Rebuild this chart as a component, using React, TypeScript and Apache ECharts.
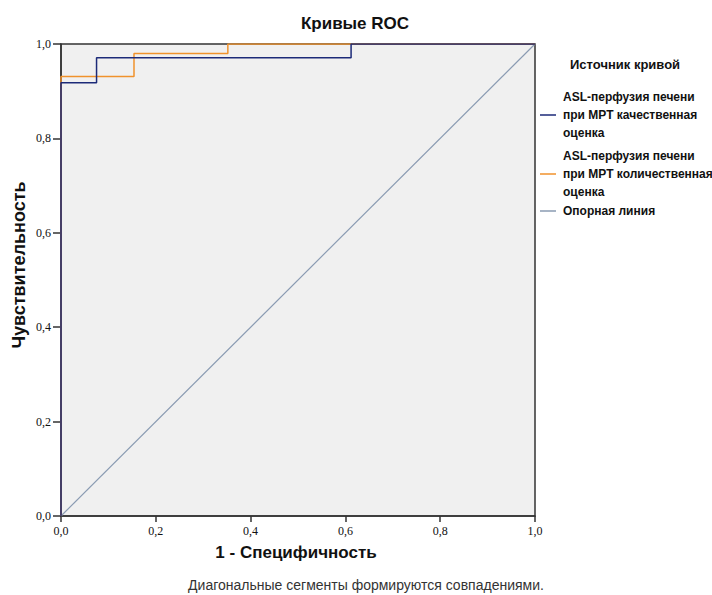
import React, { useEffect, useRef } from "react";
import * as echarts from "echarts";

const title = "Кривые ROC";
const xAxisName = "1 - Специфичность";
const yAxisName = "Чувствительность";
const footnote = "Диагональные сегменты формируются совпадениями.";
const legendTitle = "Источник кривой";

const seriesNames = [
  "ASL-перфузия печени\nпри МРТ качественная\nоценка",
  "ASL-перфузия печени\nпри МРТ количественная\nоценка",
  "Опорная линия",
];

const qualitativeCurve: [number, number][] = [
  [0, 0], [0, 0.918], [0.075, 0.918], [0.075, 0.971], [0.612, 0.971], [0.612, 1], [1, 1],
];
const quantitativeCurve: [number, number][] = [
  [0, 0], [0, 0.931], [0.154, 0.931], [0.154, 0.98], [0.352, 0.98], [0.352, 1], [1, 1],
];
const referenceLine: [number, number][] = [[0, 0], [1, 1]];

const colors = ["#1c2a78", "#f0922c", "#8a9bb2"];

const fmt = (v: number) => v.toFixed(1).replace(".", ",");
const SANS = "'Liberation Sans', Arial, sans-serif";
const SERIF = "'Liberation Serif', 'Times New Roman', serif";

export default function App() {
  const ref = useRef<HTMLDivElement>(null);
  useEffect(() => {
    if (!ref.current) return;
    const chart = echarts.init(ref.current, undefined, { renderer: "svg" });
    const legendItems = [
      { y: 97, lineY: 115 },
      { y: 156, lineY: 174 },
      { y: 211, lineY: 211 },
    ];
    const graphic: any[] = [
      {
        type: "text",
        x: 355,
        y: 23,
        style: { text: title, font: `bold 17px ${SANS}`, fill: "#111", align: "center", verticalAlign: "middle" },
      },
      {
        type: "text",
        x: 296,
        y: 552,
        style: { text: xAxisName, font: `bold 17px ${SANS}`, fill: "#111", align: "center", verticalAlign: "middle" },
      },
      {
        type: "text",
        x: 19,
        y: 265,
        rotation: Math.PI / 2,
        style: { text: yAxisName, font: `bold 18px ${SANS}`, fill: "#111", align: "center", verticalAlign: "middle" },
      },
      {
        type: "text",
        x: 570,
        y: 64,
        style: { text: legendTitle, font: `bold 13px ${SANS}`, fill: "#111", verticalAlign: "middle" },
      },
      {
        type: "text",
        x: 366,
        y: 585,
        style: { text: footnote, font: `14px ${SANS}`, fill: "#333", align: "center", verticalAlign: "middle" },
      },
    ];
    seriesNames.forEach((n, i) => {
      graphic.push({
        type: "line",
        shape: { x1: 540, y1: legendItems[i].lineY, x2: 556, y2: legendItems[i].lineY },
        style: { stroke: colors[i], lineWidth: 1.5 },
      });
      graphic.push({
        type: "text",
        x: 563,
        y: legendItems[i].y - 9,
        style: {
          text: n,
          font: `bold 12px ${SANS}`,
          fill: "#111",
          lineHeight: 18,
        },
      });
    });

    chart.setOption({
      animation: false,
      backgroundColor: "#ffffff",
      grid: {
        left: 61,
        top: 44,
        width: 474,
        height: 472,
        show: true,
        backgroundColor: "#f0f0f0",
        borderColor: "#333",
        borderWidth: 1.5,
      },
      xAxis: {
        type: "value",
        min: 0,
        max: 1,
        interval: 0.2,
        axisLine: { show: true, lineStyle: { color: "#333", width: 1.5 } },
        axisTick: { show: true, length: 6, lineStyle: { color: "#333", width: 1.5 } },
        axisLabel: { formatter: fmt, fontFamily: SERIF, fontSize: 12, color: "#111", margin: 9 },
        splitLine: { show: false },
      },
      yAxis: {
        type: "value",
        min: 0,
        max: 1,
        interval: 0.2,
        axisLine: { show: true, lineStyle: { color: "#333", width: 1.5 } },
        axisTick: { show: true, length: 8, lineStyle: { color: "#333", width: 1.5 } },
        axisLabel: { formatter: fmt, fontFamily: SERIF, fontSize: 12, color: "#111", margin: 10 },
        splitLine: { show: false },
      },
      series: [
        {
          name: "Опорная линия",
          type: "line",
          data: referenceLine,
          symbol: "none",
          lineStyle: { color: colors[2], width: 1.2 },
          z: 1,
        },
        {
          name: "ASL-перфузия печени при МРТ количественная оценка",
          type: "line",
          data: quantitativeCurve,
          symbol: "none",
          lineStyle: { color: colors[1], width: 1.5 },
          z: 2,
        },
        {
          name: "ASL-перфузия печени при МРТ качественная оценка",
          type: "line",
          data: qualitativeCurve,
          symbol: "none",
          lineStyle: { color: colors[0], width: 1.5 },
          z: 3,
        },
      ],
      graphic,
    });
    return () => chart.dispose();
  }, []);
  return <div ref={ref} style={{ position: "fixed", left: 0, top: 0, width: 712, height: 595 }} />;
}
